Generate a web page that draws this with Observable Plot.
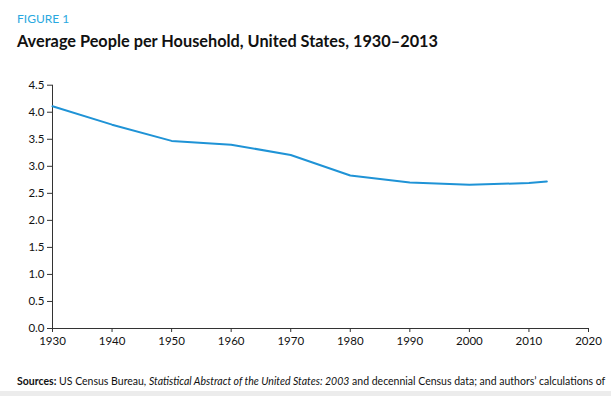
<!DOCTYPE html>
<html>
<head>
<meta charset="utf-8">
<script src="https://cdn.jsdelivr.net/npm/d3@7"></script>
<script src="https://cdn.jsdelivr.net/npm/@observablehq/plot@0.6"></script>
<style>
  html, body { margin: 0; padding: 0; background: #fff; width: 611px; height: 396px; overflow: hidden; font-family: Lato, "Open Sans", sans-serif; }
  #wrap { position: relative; width: 611px; height: 396px; }
  #fig { position: absolute; left: 17px; top: 11px; font-size: 12px; color: #29a8e0; }
  #title { position: absolute; left: 17px; top: 31px; font-size: 16.3px; font-weight: bold; color: #111; }
  #chart { position: absolute; left: 0; top: 70px; }
  #src { position: absolute; left: 17px; top: 375px; font-size: 10.5px; color: #111; white-space: nowrap; }
  #band { position: absolute; left: 0; top: 391px; width: 611px; height: 5px; background: #ececec; }
</style>
</head>
<body>
<div id="wrap">
  <div id="fig">FIGURE 1</div>
  <div id="title">Average People per Household, United States, 1930–2013</div>
  <div id="chart"></div>
  <div id="src"><b>Sources:</b> US Census Bureau, <i>Statistical Abstract of the United States: 2003</i> and decennial Census data; and authors’ calculations of</div>
  <div id="band"></div>
</div>
<script>
const years = [1930, 1940, 1950, 1960, 1970, 1980, 1990, 2000, 2010, 2013];
const peoplePerHousehold = [4.11, 3.77, 3.47, 3.40, 3.21, 2.83, 2.70, 2.66, 2.69, 2.72];
const xTicks = [1930, 1940, 1950, 1960, 1970, 1980, 1990, 2000, 2010, 2020];
const yTicks = [0, 0.5, 1, 1.5, 2, 2.5, 3, 3.5, 4, 4.5];

const data = years.map((y, i) => ({year: y, value: peoplePerHousehold[i]}));

const chart = Plot.plot({
  width: 611,
  height: 281,
  marginLeft: 52,
  marginRight: 23,
  marginTop: 14.7,
  marginBottom: 23,
  style: {fontFamily: "Lato, sans-serif", fontSize: "11.5px", color: "#111", background: "transparent"},
  x: {domain: [1930, 2020], ticks: xTicks, tickFormat: d => String(d)},
  y: {domain: [0, 4.5], ticks: yTicks, tickFormat: d3.format(".1f")},
  marks: [
    Plot.axisX({ticks: xTicks, tickFormat: d => String(d), tickSize: 4, tickPadding: 4, stroke: "#333", label: null}),
    Plot.axisY({ticks: yTicks, tickFormat: d3.format(".1f"), tickSize: 5, tickPadding: 3, stroke: "#333", label: null}),
    Plot.ruleY([0], {stroke: "#333", strokeWidth: 1}),
    Plot.ruleX([1930], {stroke: "#333", strokeWidth: 1}),
    Plot.line(data, {x: "year", y: "value", stroke: "#1f93d6", strokeWidth: 2})
  ]
});
document.getElementById("chart").appendChild(chart);
</script>
</body>
</html>
